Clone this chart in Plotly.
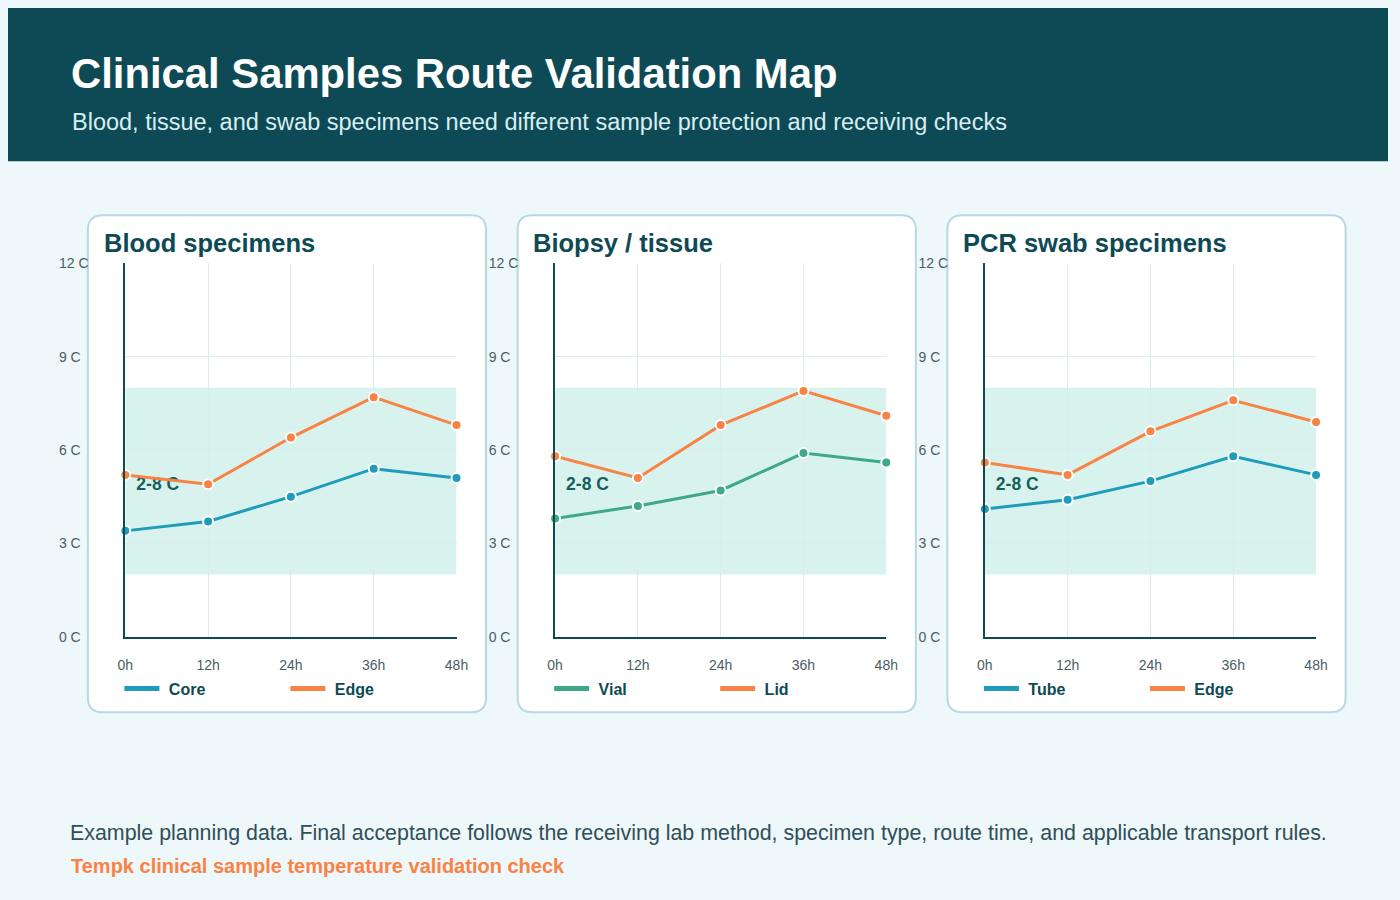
import plotly.graph_objects as go

# ---------------- data ----------------
hours = [0, 12, 24, 36, 48]
hour_labels = ["0h", "12h", "24h", "36h", "48h"]
temp_ticks = [0, 3, 6, 9, 12]
temp_labels = ["0 C\u2007", "3 C\u2007", "6 C\u2007", "9 C\u2007", "12 C"]

panel_titles = ["Blood specimens", "Biopsy / tissue", "PCR swab specimens"]
series_a_names = ["Core", "Vial", "Tube"]
series_b_names = ["Edge", "Lid", "Edge"]

blood_core = [3.4, 3.7, 4.5, 5.4, 5.1]
blood_edge = [5.2, 4.9, 6.4, 7.7, 6.8]
tissue_vial = [3.8, 4.2, 4.7, 5.9, 5.6]
tissue_lid = [5.8, 5.1, 6.8, 7.9, 7.1]
swab_tube = [4.1, 4.4, 5.0, 5.8, 5.2]
swab_edge = [5.6, 5.2, 6.6, 7.6, 6.9]

series_a_values = [blood_core, tissue_vial, swab_tube]
series_b_values = [blood_edge, tissue_lid, swab_edge]

band_low, band_high = 2, 8
band_label = "2-8 C"
band_label_x, band_label_y = 1.6, 4.85

title_text = "Clinical Samples Route Validation Map"
subtitle_text = "Blood, tissue, and swab specimens need different sample protection and receiving checks"
footer_text = ("Example planning data. Final acceptance follows the receiving lab method, "
               "specimen type, route time, and applicable transport rules.")
brand_text = "Tempk clinical sample temperature validation check"

# ---------------- style ----------------
W, H = 1400, 900
FONT = "Liberation Sans, Arial, Helvetica, sans-serif"
DARK = "#0e4a55"
BG = "#eef7fa"
CARD_LINE = "#b7d9e1"
GRID = "#dcebf0"
BAND = "#d8f3ed"
TICK = "#4b5d63"
BLUE = "#1f9cbc"
GREEN = "#3fa886"
ORANGE = "#f98345"
series_a_colors = [BLUE, GREEN, BLUE]

plot_left_px = [119, 555, 991]
plot_w_px = 336
plot_top_px, plot_bot_px = 260, 640
card_left_px = [81, 517, 953]
card_w_px = 404
card_top_px, card_bot_px = 211, 717


def px_x(v):
    return v / W


def px_y(v):
    return 1 - v / H


def rounded_path(x0, y0, x1, y1, r):
    X = lambda v: f"{px_x(v):.5f}"
    Y = lambda v: f"{px_y(v):.5f}"
    return (f"M{X(x0 + r)},{Y(y0)} L{X(x1 - r)},{Y(y0)} Q{X(x1)},{Y(y0)} {X(x1)},{Y(y0 + r)} "
            f"L{X(x1)},{Y(y1 - r)} Q{X(x1)},{Y(y1)} {X(x1 - r)},{Y(y1)} "
            f"L{X(x0 + r)},{Y(y1)} Q{X(x0)},{Y(y1)} {X(x0)},{Y(y1 - r)} "
            f"L{X(x0)},{Y(y0 + r)} Q{X(x0)},{Y(y0)} {X(x0 + r)},{Y(y0)} Z")


fig = go.Figure()
shapes = []
annotations = []

shapes.append(dict(type="rect", xref="paper", yref="paper", x0=0, x1=1, y0=px_y(156), y1=1,
                   fillcolor=DARK, line=dict(width=0), layer="below"))

for i in range(3):
    sfx = "" if i == 0 else str(i + 1)
    xa, ya = "x" + sfx, "y" + sfx
    leg = "legend" + sfx

    shapes.append(dict(type="path", xref="paper", yref="paper",
                       path=rounded_path(card_left_px[i], card_top_px,
                                         card_left_px[i] + card_w_px, card_bot_px, 15),
                       fillcolor="white", line=dict(color=CARD_LINE, width=2), layer="below"))
    shapes.append(dict(type="rect", xref=xa, yref=ya, x0=hours[0], x1=hours[-1],
                       y0=band_low, y1=band_high, fillcolor=BAND, line=dict(width=0),
                       layer="below"))

    fig.add_trace(go.Scatter(x=[band_label_x], y=[band_label_y], mode="text",
                             text=[band_label], textposition="middle right",
                             textfont=dict(family=FONT, size=17.5, color="#12605c", weight="bold"),
                             xaxis=xa, yaxis=ya, showlegend=False, hoverinfo="skip",
                             cliponaxis=False))

    for vals, color, name in ((series_a_values[i], series_a_colors[i], series_a_names[i]),
                              (series_b_values[i], ORANGE, series_b_names[i])):
        fig.add_trace(go.Scatter(x=hours, y=vals, mode="lines+markers", name=name,
                                 line=dict(color=color, width=3),
                                 marker=dict(size=10, color=color,
                                             line=dict(color="white", width=2)),
                                 xaxis=xa, yaxis=ya, showlegend=False, cliponaxis=False))
        fig.add_trace(go.Scatter(x=[None], y=[None], mode="lines", name="\u00a0" + name,
                                 line=dict(color=color, width=5),
                                 xaxis=xa, yaxis=ya, showlegend=True, legend=leg))

    x0 = px_x(plot_left_px[i])
    x1 = px_x(plot_left_px[i] + plot_w_px)
    fig.update_layout({
        "xaxis" + sfx: dict(domain=[x0, x1], anchor=ya, range=[hours[0], hours[-1]],
                            tickvals=hours, ticktext=hour_labels, showgrid=True,
                            gridcolor=GRID, gridwidth=1, zeroline=False, showline=True,
                            linecolor=DARK, linewidth=2, ticks="", ticklabelstandoff=15,
                            tickfont=dict(family=FONT, size=14, color=TICK), fixedrange=True),
        "yaxis" + sfx: dict(domain=[px_y(plot_bot_px), px_y(plot_top_px)], anchor=xa,
                            range=[0, 12], tickvals=temp_ticks, ticktext=temp_labels,
                            showgrid=True, gridcolor=GRID, gridwidth=1, zeroline=False,
                            showline=True, linecolor=DARK, linewidth=2, ticks="",
                            ticklabelstandoff=32,
                            tickfont=dict(family=FONT, size=14, color=TICK), fixedrange=True),
        leg: dict(orientation="h", x=px_x(plot_left_px[i] - 6), xanchor="left",
                  y=px_y(693), yanchor="middle", bgcolor="rgba(0,0,0,0)",
                  font=dict(family=FONT, size=16, color=DARK, weight="bold"),
                  entrywidth=116, entrywidthmode="pixels", itemwidth=35,
                  tracegroupgap=0, itemclick=False, itemdoubleclick=False),
    })

    annotations.append(dict(text=f"<b>{panel_titles[i]}</b>", xref="paper", yref="paper",
                            x=px_x(card_left_px[i] + 14), y=px_y(239), xanchor="left",
                            yanchor="middle", showarrow=False,
                            font=dict(family=FONT, size=25.5, color=DARK)))

annotations += [
    dict(text=f"<b>{title_text}</b>", xref="paper", yref="paper", x=px_x(62), y=px_y(67),
         xanchor="left", yanchor="middle", showarrow=False,
         font=dict(family=FONT, size=41.8, color="white")),
    dict(text=subtitle_text, xref="paper", yref="paper", x=px_x(63), y=px_y(116),
         xanchor="left", yanchor="middle", showarrow=False,
         font=dict(family=FONT, size=23.5, color="#d8eef2")),
    dict(text=footer_text, xref="paper", yref="paper", x=px_x(61), y=px_y(840),
         xanchor="left", yanchor="middle", showarrow=False,
         font=dict(family=FONT, size=21.4, color="#2f4f57")),
    dict(text=f"<b>{brand_text}</b>", xref="paper", yref="paper", x=px_x(62), y=px_y(874),
         xanchor="left", yanchor="middle", showarrow=False,
         font=dict(family=FONT, size=20, color=ORANGE)),
]

fig.update_layout(width=W, height=H, margin=dict(l=0, r=0, t=0, b=0),
                  paper_bgcolor=BG, plot_bgcolor="white", shapes=shapes,
                  annotations=annotations, hovermode=False,
                  font=dict(family=FONT))

fig.write_html("out.html", config={"displayModeBar": False})
